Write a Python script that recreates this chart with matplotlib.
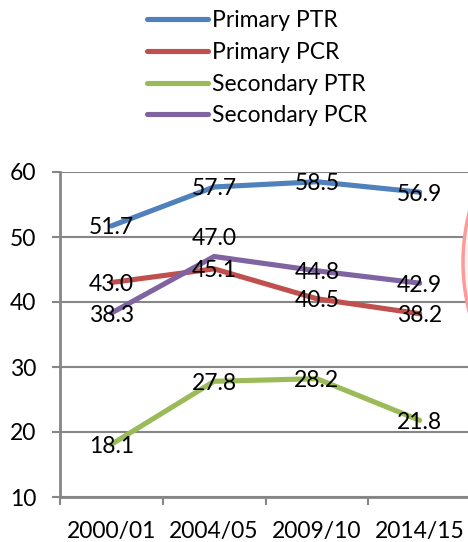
import matplotlib
matplotlib.use("Agg")
import matplotlib.pyplot as plt
from matplotlib.patches import Ellipse

categories = ["2000/01", "2004/05", "2009/10", "2014/15"]
primary_ptr = [51.7, 57.7, 58.5, 56.9]
primary_pcr = [43.0, 45.1, 40.5, 38.2]
secondary_ptr = [18.1, 27.8, 28.2, 21.8]
secondary_pcr = [38.3, 47.0, 44.8, 42.9]
series_names = ["Primary PTR", "Primary PCR", "Secondary PTR", "Secondary PCR"]
yticks = [10, 20, 30, 40, 50, 60]

colors = ["#4F81BD", "#C0504D", "#9BBB59", "#8064A2"]
series = [primary_ptr, primary_pcr, secondary_ptr, secondary_pcr]

plt.rcParams['font.family'] = ['Lato', 'DejaVu Sans']
FS = 16.5

W, H = 468, 542
fig = plt.figure(figsize=(W / 100, H / 100), dpi=100)
ax = fig.add_axes([60 / W, 1 - 497 / H, 411 / W, 325 / H])

x = list(range(len(categories)))
handles = []
for vals, c, name in zip(series, colors, series_names):
    ln, = ax.plot(x, vals, color=c, lw=3.7, solid_capstyle='round', label=name, zorder=3)
    handles.append(ln)

# data labels
for si, vals in enumerate(series):
    for xi, v in zip(x, vals):
        dy = -2
        if si == 3 and xi == 1:
            dy = 18
        ax.annotate(f"{v:.1f}", (xi, v), xytext=(0, dy * 0.72), textcoords='offset points',
                    ha='center', va='center', fontsize=FS, color='black', zorder=4)

ax.set_xlim(-0.5, 3.5)
ax.set_ylim(10, 60)
ax.set_yticks(yticks)
ax.set_yticklabels([str(t) for t in yticks], fontsize=FS)
ax.set_xticks(x)
ax.set_xticklabels(categories, fontsize=FS)
ax.set_xticks([-0.5, 0.5, 1.5, 2.5, 3.5], minor=True)
ax.tick_params(axis='x', which='major', length=0, pad=17)
ax.tick_params(axis='x', which='minor', length=6, width=1.5, color='#868686', direction='out')
ax.tick_params(axis='y', length=6, width=1.5, color='#868686', pad=11)
ax.yaxis.grid(True, color='#868686', lw=1.5, zorder=0)
ax.set_axisbelow(True)
for s in ['top', 'right']:
    ax.spines[s].set_visible(False)
for s in ['left', 'bottom']:
    ax.spines[s].set_color('#868686')
    ax.spines[s].set_linewidth(2)

fig.legend(handles=handles, loc='upper left', bbox_to_anchor=(147 / W, 1 - 10 / H),
           frameon=False, fontsize=FS, handlelength=2.65, handletextpad=0.2,
           labelspacing=0.47, borderpad=0, borderaxespad=0)

# partial pink circle at right edge
fig.patches.append(Ellipse((665 / W, 1 - 262 / H), 2 * 202 / W, 2 * 202 / H,
                           transform=fig.transFigure, facecolor='#fff3f3',
                           edgecolor='#ff9a9a', lw=2.5, zorder=5))

fig.savefig("out.png", dpi=100)
